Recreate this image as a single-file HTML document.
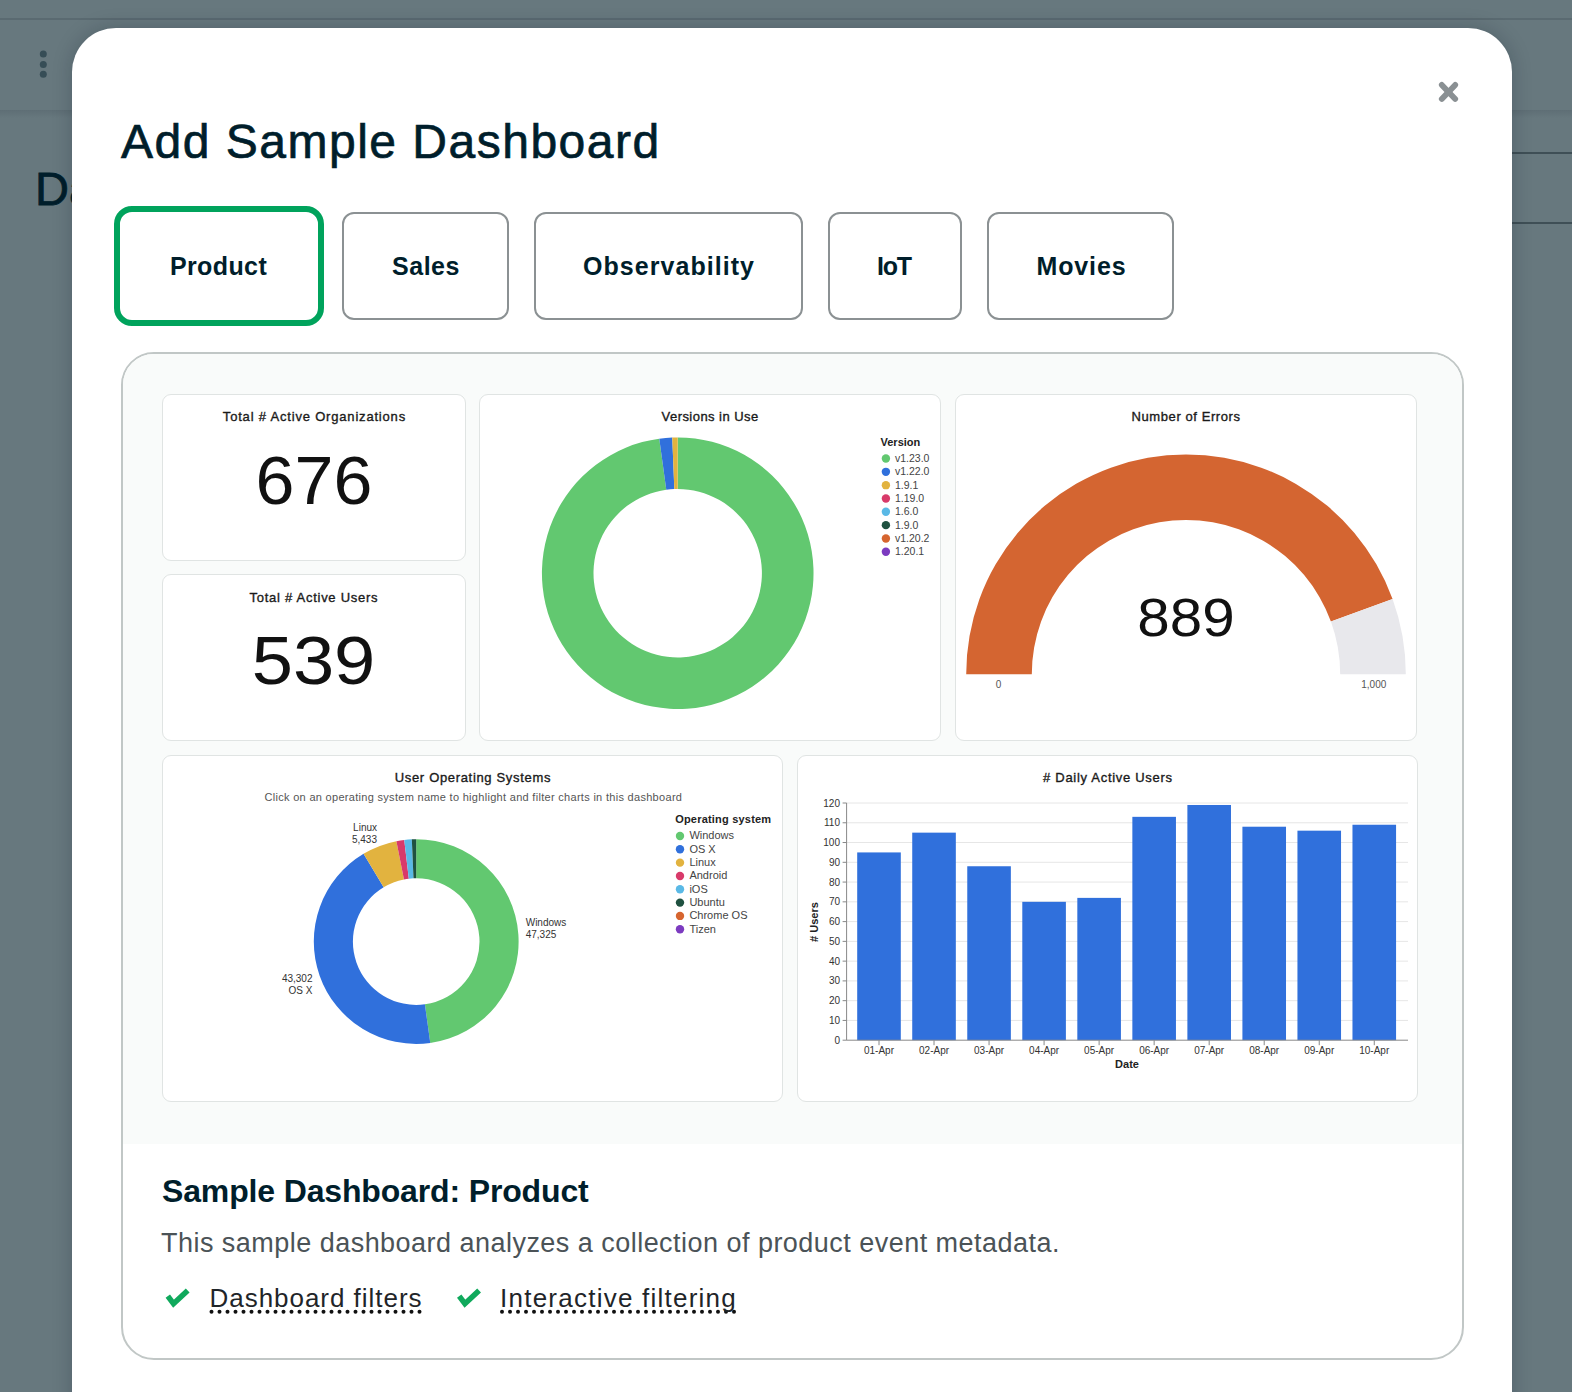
<!DOCTYPE html>
<html>
<head>
<meta charset="utf-8">
<style>
html,body{margin:0;padding:0;}
body{width:1572px;height:1392px;overflow:hidden;position:relative;background:#67787e;font-family:"Liberation Sans",sans-serif;}
.abs{position:absolute;box-sizing:border-box;}
#topline{left:0;top:18px;width:1572px;height:2px;background:#5a6a71;}
#hdrline{left:0;top:110px;width:1572px;height:8px;background:linear-gradient(#5e6e75,#67787e);}
.rline{left:1500px;width:72px;height:2px;background:#3f4f56;}
#modal{left:72px;top:28px;width:1440px;height:1420px;background:#fff;border-radius:44px;box-shadow:0 0 20px rgba(0,20,30,0.22);}
.tab{border:2px solid #8b9193;border-radius:12px;top:212px;height:108px;background:#fff;}
#tab0{left:114px;top:206px;width:210px;height:120px;border:6px solid #00A35C;border-radius:18px;}
#card{left:121px;top:352px;width:1343px;height:1008px;border:2px solid #C1C7C6;border-radius:33px;background:#fff;overflow:hidden;}
#cardgray{left:0;top:0;width:1343px;height:790px;background:#F9FBFA;}
.tile{background:#fff;border:1px solid #E0E4E3;border-radius:9px;}
svg{position:absolute;left:0;top:0;}
</style>
</head>
<body>
<div class="abs" id="topline"></div>
<div class="abs" id="hdrline"></div>
<div class="abs rline" style="top:152px"></div>
<div class="abs rline" style="top:222px"></div>

<svg width="1572" height="1392" viewBox="0 0 1572 1392" font-family="Liberation Sans, sans-serif">
  <g fill="#364d56"><circle cx="43.3" cy="54" r="3.5"/><circle cx="43.3" cy="64.4" r="3.5"/><circle cx="43.3" cy="74.3" r="3.5"/></g>
  <text x="35" y="205" font-size="47" fill="#001E2B" stroke="#001E2B" stroke-width="0.8">Da</text>
</svg>
<div class="abs" id="modal"></div>
<div class="abs tab" id="tab0"></div>
<div class="abs tab" style="left:342px;width:167px"></div>
<div class="abs tab" style="left:534px;width:269px"></div>
<div class="abs tab" style="left:828px;width:134px"></div>
<div class="abs tab" style="left:987px;width:187px"></div>

<div class="abs" id="card"><div class="abs" id="cardgray"></div></div>
<div class="abs tile" style="left:162px;top:394px;width:304px;height:167px"></div>
<div class="abs tile" style="left:162px;top:574px;width:304px;height:167px"></div>
<div class="abs tile" style="left:479px;top:394px;width:462px;height:347px"></div>
<div class="abs tile" style="left:955px;top:394px;width:462px;height:347px"></div>
<div class="abs tile" style="left:162px;top:755px;width:621px;height:347px"></div>
<div class="abs tile" style="left:797px;top:755px;width:621px;height:347px"></div>

<svg id="fg" width="1572" height="1392" viewBox="0 0 1572 1392" font-family="Liberation Sans, sans-serif">
<!-- close -->
<g stroke="#8a9093" stroke-width="5.8" stroke-linecap="round"><line x1="1441.8" y1="84.9" x2="1455.2" y2="98.9"/><line x1="1455.2" y1="84.9" x2="1441.8" y2="98.9"/></g>
<text x="121" y="158" font-size="48" fill="#001E2B" stroke="#001E2B" stroke-width="0.7" letter-spacing="1.5">Add Sample Dashboard</text>
<g font-size="25" font-weight="700" fill="#001E2B" text-anchor="middle">
<text x="218.5" y="275" letter-spacing="0.4">Product</text>
<text x="426" y="275" letter-spacing="0.5">Sales</text>
<text x="669" y="275" letter-spacing="1.05">Observability</text>
<text x="894" y="275" letter-spacing="-1.2">IoT</text>
<text x="1081.5" y="275" letter-spacing="0.9">Movies</text>
</g>
<!--TILES-->
<g font-size="13" fill="#1a1a1a" stroke="#1a1a1a" stroke-width="0.35" text-anchor="middle" style="white-space:pre">
<text x="314.4" y="421" letter-spacing="0.81">Total # Active Organizations</text>
<text x="313.9" y="602" letter-spacing="0.73">Total # Active Users</text>
<text x="710.1" y="421" letter-spacing="0.45">Versions in Use</text>
<text x="1186.1" y="421" letter-spacing="0.58">Number of  Errors</text>
<text x="472.9" y="781.5" letter-spacing="0.67">User Operating Systems</text>
<text x="1107.9" y="781.5" letter-spacing="0.7"># Daily Active Users</text>
</g>
<g font-size="68" fill="#111" text-anchor="middle">
<text x="314" y="504" transform="translate(314,0) scale(1.03,1) translate(-314,0)">676</text>
<text x="313.5" y="684" transform="translate(313.5,0) scale(1.09,1) translate(-313.5,0)">539</text>
</g>
<path d="M677.70,437.40A135.8,135.8 0 1 1 659.27,438.66L666.27,489.78A84.2,84.2 0 1 0 677.70,489.00Z" fill="#62c870"/>
<path d="M659.27,438.66A135.8,135.8 0 0 1 672.25,437.51L674.32,489.07A84.2,84.2 0 0 0 666.27,489.78Z" fill="#3070dc"/>
<path d="M672.25,437.51A135.8,135.8 0 0 1 677.68,437.40L677.69,489.00A84.2,84.2 0 0 0 674.32,489.07Z" fill="#e2b33f"/>
<text x="880.5" y="446" font-size="11" font-weight="700" fill="#222">Version</text>
<g font-size="10.5" fill="#444">
<circle cx="885.9" cy="458.50" r="4.2" fill="#62c870"/>
<text x="895" y="462.10">v1.23.0</text>
<circle cx="885.9" cy="471.83" r="4.2" fill="#3070dc"/>
<text x="895" y="475.43">v1.22.0</text>
<circle cx="885.9" cy="485.16" r="4.2" fill="#e2b33f"/>
<text x="895" y="488.76">1.9.1</text>
<circle cx="885.9" cy="498.49" r="4.2" fill="#d83a6a"/>
<text x="895" y="502.09">1.19.0</text>
<circle cx="885.9" cy="511.82" r="4.2" fill="#5ab9e6"/>
<text x="895" y="515.42">1.6.0</text>
<circle cx="885.9" cy="525.15" r="4.2" fill="#1f5140"/>
<text x="895" y="528.75">1.9.0</text>
<circle cx="885.9" cy="538.48" r="4.2" fill="#d6652f"/>
<text x="895" y="542.08">v1.20.2</text>
<circle cx="885.9" cy="551.81" r="4.2" fill="#7c3bc0"/>
<text x="895" y="555.41">1.20.1</text>
</g>
<path d="M966.20,674.20A219.8,219.8 0 0 1 1392.57,599.10L1330.92,621.51A154.2,154.2 0 0 0 1031.80,674.20Z" fill="#d46531"/>
<path d="M1392.57,599.10A219.8,219.8 0 0 1 1405.80,674.20L1340.20,674.20A154.2,154.2 0 0 0 1330.92,621.51Z" fill="#e8e8ec"/>
<text x="1186" y="636" font-size="53" fill="#111" text-anchor="middle" transform="translate(1186,0) scale(1.1,1) translate(-1186,0)">889</text>
<g font-size="10" fill="#555" text-anchor="middle"><text x="998.5" y="687.5">0</text><text x="1373.8" y="687.5">1,000</text></g>
<path d="M416.20,839.20A102.4,102.4 0 0 1 430.27,1043.03L424.90,1004.30A63.3,63.3 0 0 0 416.20,878.30Z" fill="#62c870"/>
<path d="M430.27,1043.03A102.4,102.4 0 0 1 363.54,853.78L383.65,887.31A63.3,63.3 0 0 0 424.90,1004.30Z" fill="#3070dc"/>
<path d="M363.54,853.78A102.4,102.4 0 0 1 396.40,841.13L403.96,879.49A63.3,63.3 0 0 0 383.65,887.31Z" fill="#e2b33f"/>
<path d="M396.40,841.13A102.4,102.4 0 0 1 404.25,839.90L408.81,878.73A63.3,63.3 0 0 0 403.96,879.49Z" fill="#d83a6a"/>
<path d="M404.25,839.90A102.4,102.4 0 0 1 411.82,839.29L413.49,878.36A63.3,63.3 0 0 0 408.81,878.73Z" fill="#5ab9e6"/>
<path d="M411.82,839.29A102.4,102.4 0 0 1 416.18,839.20L416.19,878.30A63.3,63.3 0 0 0 413.49,878.36Z" fill="#1f5140"/>
<text x="264.5" y="801.2" font-size="11" fill="#555" letter-spacing="0.3">Click on an operating system name to highlight and filter charts in this dashboard</text>
<g font-size="10" fill="#333">
<text x="377" y="830.6" text-anchor="end">Linux</text><text x="377" y="843.2" text-anchor="end">5,433</text>
<text x="312.5" y="981.8" text-anchor="end">43,302</text><text x="312.5" y="994" text-anchor="end">OS X</text>
<text x="525.7" y="925.5">Windows</text><text x="525.7" y="937.5">47,325</text>
</g>
<text x="675.2" y="823.4" font-size="11" font-weight="700" fill="#222" letter-spacing="0.2">Operating system</text>
<g font-size="11" fill="#444">
<circle cx="680" cy="836.00" r="4.2" fill="#62c870"/>
<text x="689.4" y="839.40">Windows</text>
<circle cx="680" cy="849.32" r="4.2" fill="#3070dc"/>
<text x="689.4" y="852.72">OS X</text>
<circle cx="680" cy="862.64" r="4.2" fill="#e2b33f"/>
<text x="689.4" y="866.04">Linux</text>
<circle cx="680" cy="875.96" r="4.2" fill="#d83a6a"/>
<text x="689.4" y="879.36">Android</text>
<circle cx="680" cy="889.28" r="4.2" fill="#5ab9e6"/>
<text x="689.4" y="892.68">iOS</text>
<circle cx="680" cy="902.60" r="4.2" fill="#1f5140"/>
<text x="689.4" y="906.00">Ubuntu</text>
<circle cx="680" cy="915.92" r="4.2" fill="#d6652f"/>
<text x="689.4" y="919.32">Chrome OS</text>
<circle cx="680" cy="929.24" r="4.2" fill="#7c3bc0"/>
<text x="689.4" y="932.64">Tizen</text>
</g>
<g stroke="#e6e6e6" stroke-width="1">
<line x1="846.6" y1="1020.43" x2="1408" y2="1020.43"/>
<line x1="846.6" y1="1000.67" x2="1408" y2="1000.67"/>
<line x1="846.6" y1="980.90" x2="1408" y2="980.90"/>
<line x1="846.6" y1="961.13" x2="1408" y2="961.13"/>
<line x1="846.6" y1="941.37" x2="1408" y2="941.37"/>
<line x1="846.6" y1="921.60" x2="1408" y2="921.60"/>
<line x1="846.6" y1="901.83" x2="1408" y2="901.83"/>
<line x1="846.6" y1="882.07" x2="1408" y2="882.07"/>
<line x1="846.6" y1="862.30" x2="1408" y2="862.30"/>
<line x1="846.6" y1="842.53" x2="1408" y2="842.53"/>
<line x1="846.6" y1="822.77" x2="1408" y2="822.77"/>
<line x1="846.6" y1="803.00" x2="1408" y2="803.00"/>
</g>
<rect x="857.20" y="852.42" width="43.6" height="187.78" fill="#3070dc"/>
<rect x="912.23" y="832.65" width="43.6" height="207.55" fill="#3070dc"/>
<rect x="967.26" y="866.25" width="43.6" height="173.95" fill="#3070dc"/>
<rect x="1022.29" y="901.83" width="43.6" height="138.37" fill="#3070dc"/>
<rect x="1077.32" y="897.88" width="43.6" height="142.32" fill="#3070dc"/>
<rect x="1132.35" y="816.84" width="43.6" height="223.36" fill="#3070dc"/>
<rect x="1187.38" y="804.98" width="43.6" height="235.22" fill="#3070dc"/>
<rect x="1242.41" y="826.72" width="43.6" height="213.48" fill="#3070dc"/>
<rect x="1297.44" y="830.67" width="43.6" height="209.53" fill="#3070dc"/>
<rect x="1352.47" y="824.74" width="43.6" height="215.46" fill="#3070dc"/>
<g stroke="#888" stroke-width="1">
<line x1="846.6" y1="803" x2="846.6" y2="1040.2"/>
<line x1="846.6" y1="1040.2" x2="1408" y2="1040.2"/>
<line x1="842.6" y1="1040.20" x2="846.6" y2="1040.20"/>
<line x1="842.6" y1="1020.43" x2="846.6" y2="1020.43"/>
<line x1="842.6" y1="1000.67" x2="846.6" y2="1000.67"/>
<line x1="842.6" y1="980.90" x2="846.6" y2="980.90"/>
<line x1="842.6" y1="961.13" x2="846.6" y2="961.13"/>
<line x1="842.6" y1="941.37" x2="846.6" y2="941.37"/>
<line x1="842.6" y1="921.60" x2="846.6" y2="921.60"/>
<line x1="842.6" y1="901.83" x2="846.6" y2="901.83"/>
<line x1="842.6" y1="882.07" x2="846.6" y2="882.07"/>
<line x1="842.6" y1="862.30" x2="846.6" y2="862.30"/>
<line x1="842.6" y1="842.53" x2="846.6" y2="842.53"/>
<line x1="842.6" y1="822.77" x2="846.6" y2="822.77"/>
<line x1="842.6" y1="803.00" x2="846.6" y2="803.00"/>
<line x1="879.00" y1="1040.2" x2="879.00" y2="1045.2"/>
<line x1="934.03" y1="1040.2" x2="934.03" y2="1045.2"/>
<line x1="989.06" y1="1040.2" x2="989.06" y2="1045.2"/>
<line x1="1044.09" y1="1040.2" x2="1044.09" y2="1045.2"/>
<line x1="1099.12" y1="1040.2" x2="1099.12" y2="1045.2"/>
<line x1="1154.15" y1="1040.2" x2="1154.15" y2="1045.2"/>
<line x1="1209.18" y1="1040.2" x2="1209.18" y2="1045.2"/>
<line x1="1264.21" y1="1040.2" x2="1264.21" y2="1045.2"/>
<line x1="1319.24" y1="1040.2" x2="1319.24" y2="1045.2"/>
<line x1="1374.27" y1="1040.2" x2="1374.27" y2="1045.2"/>
</g>
<g font-size="10" fill="#333" text-anchor="end">
<text x="840" y="1043.70">0</text>
<text x="840" y="1023.93">10</text>
<text x="840" y="1004.17">20</text>
<text x="840" y="984.40">30</text>
<text x="840" y="964.63">40</text>
<text x="840" y="944.87">50</text>
<text x="840" y="925.10">60</text>
<text x="840" y="905.33">70</text>
<text x="840" y="885.57">80</text>
<text x="840" y="865.80">90</text>
<text x="840" y="846.03">100</text>
<text x="840" y="826.27">110</text>
<text x="840" y="806.50">120</text>
</g>
<g font-size="10" fill="#333" text-anchor="middle">
<text x="879.00" y="1053.5">01-Apr</text>
<text x="934.03" y="1053.5">02-Apr</text>
<text x="989.06" y="1053.5">03-Apr</text>
<text x="1044.09" y="1053.5">04-Apr</text>
<text x="1099.12" y="1053.5">05-Apr</text>
<text x="1154.15" y="1053.5">06-Apr</text>
<text x="1209.18" y="1053.5">07-Apr</text>
<text x="1264.21" y="1053.5">08-Apr</text>
<text x="1319.24" y="1053.5">09-Apr</text>
<text x="1374.27" y="1053.5">10-Apr</text>
</g>
<text x="1127" y="1067.5" font-size="11" font-weight="700" fill="#222" text-anchor="middle">Date</text>
<text transform="translate(817.5,922) rotate(-90)" font-size="11" font-weight="700" fill="#222" text-anchor="middle"># Users</text>
<g fill="#111"><circle cx="211.50" cy="1311.8" r="2"/><circle cx="219.50" cy="1311.8" r="2"/><circle cx="227.50" cy="1311.8" r="2"/><circle cx="235.50" cy="1311.8" r="2"/><circle cx="243.50" cy="1311.8" r="2"/><circle cx="251.50" cy="1311.8" r="2"/><circle cx="259.50" cy="1311.8" r="2"/><circle cx="267.50" cy="1311.8" r="2"/><circle cx="275.50" cy="1311.8" r="2"/><circle cx="283.50" cy="1311.8" r="2"/><circle cx="291.50" cy="1311.8" r="2"/><circle cx="299.50" cy="1311.8" r="2"/><circle cx="307.50" cy="1311.8" r="2"/><circle cx="315.50" cy="1311.8" r="2"/><circle cx="323.50" cy="1311.8" r="2"/><circle cx="331.50" cy="1311.8" r="2"/><circle cx="339.50" cy="1311.8" r="2"/><circle cx="347.50" cy="1311.8" r="2"/><circle cx="355.50" cy="1311.8" r="2"/><circle cx="363.50" cy="1311.8" r="2"/><circle cx="371.50" cy="1311.8" r="2"/><circle cx="379.50" cy="1311.8" r="2"/><circle cx="387.50" cy="1311.8" r="2"/><circle cx="395.50" cy="1311.8" r="2"/><circle cx="403.50" cy="1311.8" r="2"/><circle cx="411.50" cy="1311.8" r="2"/><circle cx="419.50" cy="1311.8" r="2"/><circle cx="502.00" cy="1311.8" r="2"/><circle cx="510.00" cy="1311.8" r="2"/><circle cx="518.00" cy="1311.8" r="2"/><circle cx="526.00" cy="1311.8" r="2"/><circle cx="534.00" cy="1311.8" r="2"/><circle cx="542.00" cy="1311.8" r="2"/><circle cx="550.00" cy="1311.8" r="2"/><circle cx="558.00" cy="1311.8" r="2"/><circle cx="566.00" cy="1311.8" r="2"/><circle cx="574.00" cy="1311.8" r="2"/><circle cx="582.00" cy="1311.8" r="2"/><circle cx="590.00" cy="1311.8" r="2"/><circle cx="598.00" cy="1311.8" r="2"/><circle cx="606.00" cy="1311.8" r="2"/><circle cx="614.00" cy="1311.8" r="2"/><circle cx="622.00" cy="1311.8" r="2"/><circle cx="630.00" cy="1311.8" r="2"/><circle cx="638.00" cy="1311.8" r="2"/><circle cx="646.00" cy="1311.8" r="2"/><circle cx="654.00" cy="1311.8" r="2"/><circle cx="662.00" cy="1311.8" r="2"/><circle cx="670.00" cy="1311.8" r="2"/><circle cx="678.00" cy="1311.8" r="2"/><circle cx="686.00" cy="1311.8" r="2"/><circle cx="694.00" cy="1311.8" r="2"/><circle cx="702.00" cy="1311.8" r="2"/><circle cx="710.00" cy="1311.8" r="2"/><circle cx="718.00" cy="1311.8" r="2"/><circle cx="726.00" cy="1311.8" r="2"/><circle cx="734.00" cy="1311.8" r="2"/></g>
<!--/TILES-->
<text x="162" y="1202" font-size="32" font-weight="700" fill="#001E2B" letter-spacing="-0.15">Sample Dashboard: Product</text>
<text x="161" y="1251.5" font-size="27" fill="#4b5357" letter-spacing="0.47">This sample dashboard analyzes a collection of product event metadata.</text>
<g fill="none" stroke="#10a95c" stroke-width="5.5" stroke-linecap="butt" stroke-linejoin="miter">
<polyline points="167.8,1296.1 173.5,1303.7 187.7,1290.4"/>
<polyline points="459.2,1296.1 464.9,1303.7 479.1,1290.4"/>
</g>
<g font-size="26" fill="#1f2529">
<text x="209.5" y="1307" letter-spacing="0.97">Dashboard filters</text>
<text x="500" y="1307" letter-spacing="1.24">Interactive filtering</text>
</g>
<!--DOTS-->
</svg>
</body>
</html>
